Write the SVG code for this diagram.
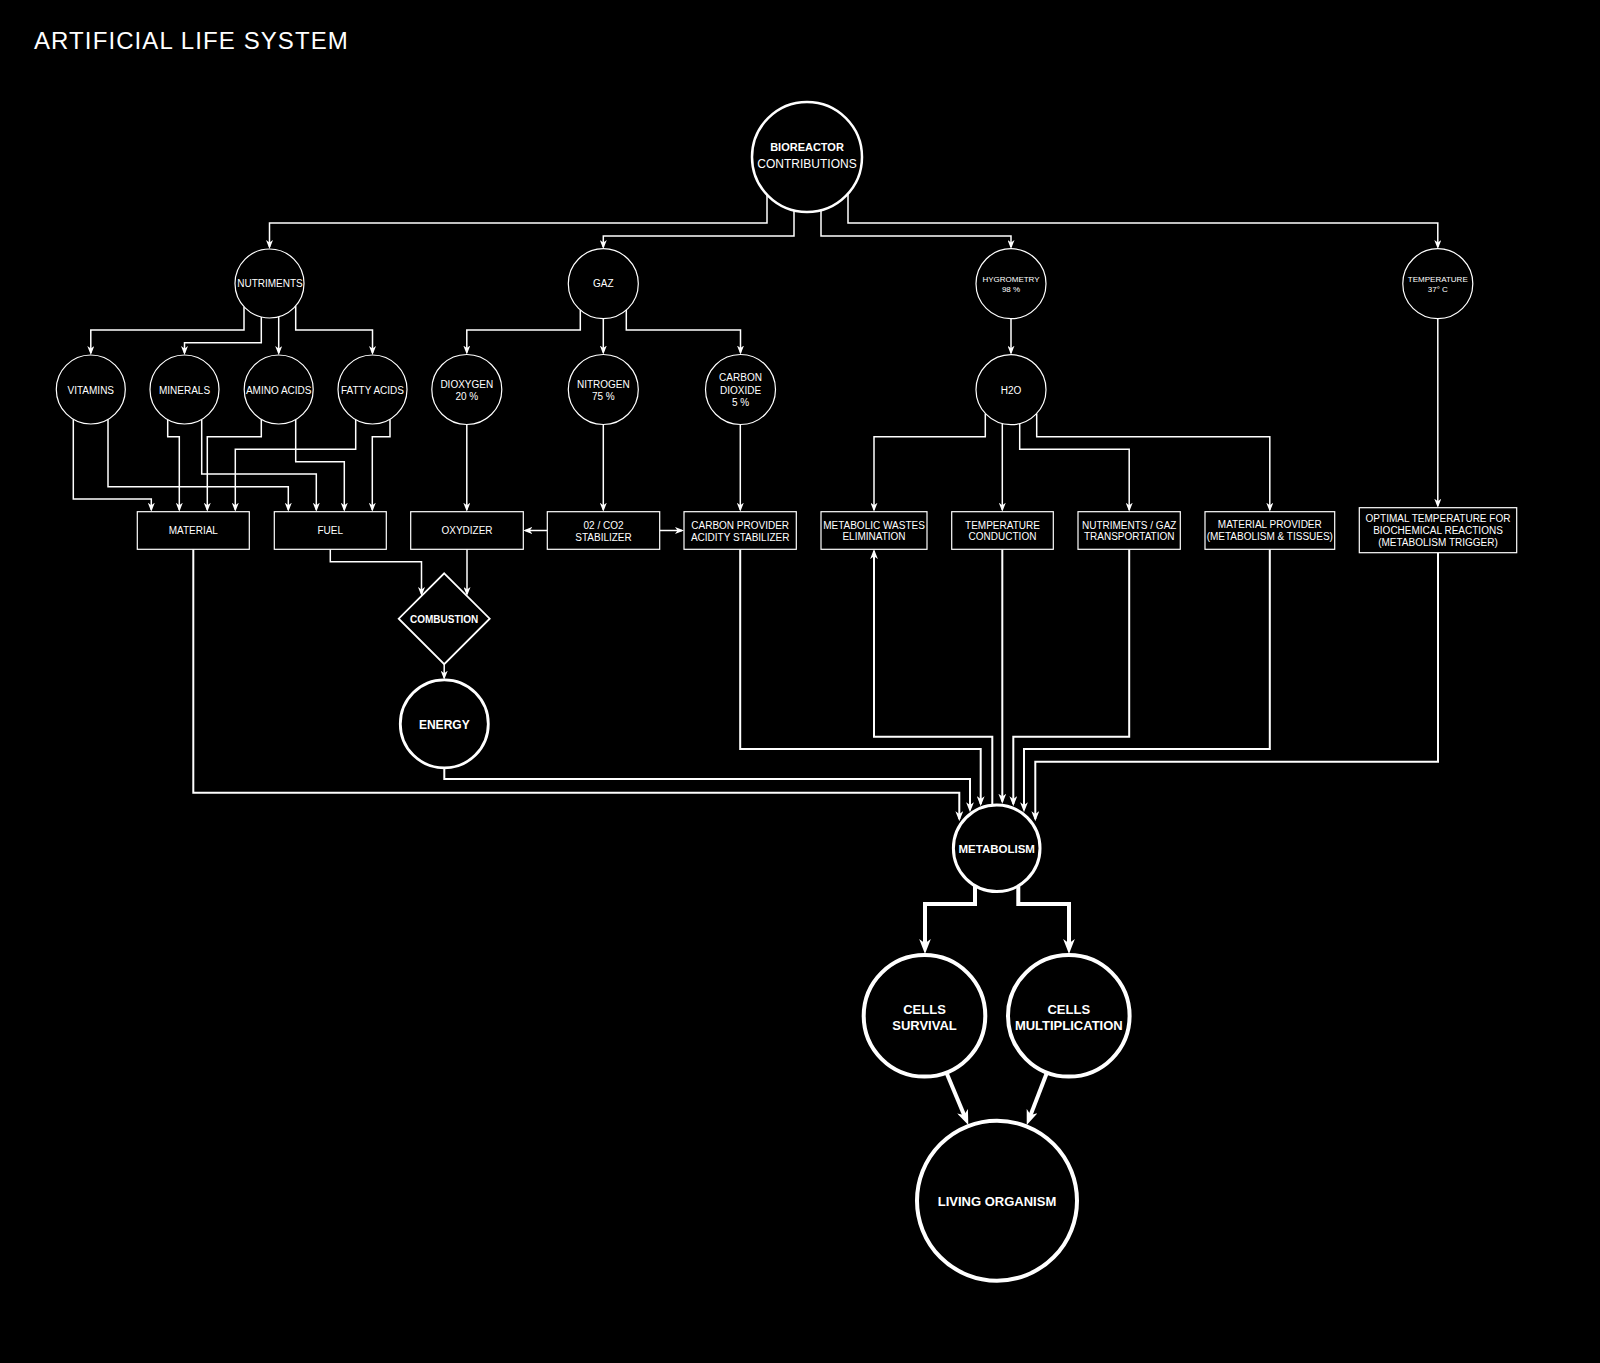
<svg xmlns="http://www.w3.org/2000/svg" width="1600" height="1363" viewBox="0 0 1600 1363">
<style>
text{font-family:"Liberation Sans",Arial,sans-serif;fill:#fff;text-anchor:middle}
.t10{font-size:10px}
.t8{font-size:8px}
.b{font-weight:bold}
.node{fill:#000;stroke:#fff;stroke-width:1.2}
.c{fill:none;stroke:#fff;stroke-width:1.5}
.c2{fill:none;stroke:#fff;stroke-width:2}
.c4{fill:none;stroke:#fff;stroke-width:4}
</style>
<defs>
<marker id="a" viewBox="0 0 9 7" markerWidth="9" markerHeight="7" refX="7" refY="3.5" orient="auto" markerUnits="userSpaceOnUse"><path d="M0,0 L9,3.5 L0,7 L2.5,3.5 Z" fill="#fff"/></marker>
<marker id="a2" viewBox="0 0 9 7" markerWidth="10" markerHeight="8" refX="7" refY="3.5" orient="auto" markerUnits="userSpaceOnUse"><path d="M0,0 L9,3.5 L0,7 L2.5,3.5 Z" fill="#fff"/></marker>
<marker id="b" viewBox="0 0 9 7" markerWidth="15" markerHeight="11.7" refX="5.4" refY="3.5" orient="auto" markerUnits="userSpaceOnUse"><path d="M0,0 L9,3.5 L0,7 L2.5,3.5 Z" fill="#fff"/></marker>
</defs>
<rect x="0" y="0" width="1600" height="1363" fill="#000"/>
<text x="34" y="49" style="font-size:24px;letter-spacing:1.1px;text-anchor:start">ARTIFICIAL LIFE SYSTEM</text>

<g id="connectors">
<path class="c" marker-end="url(#a)" d="M767,194.7 L767,223 L269.5,223 L269.5,247"/>
<path class="c" marker-end="url(#a)" d="M794,210.4 L794,236 L603.3,236 L603.3,247"/>
<path class="c" marker-end="url(#a)" d="M821,210.4 L821,236 L1011,236 L1011,247"/>
<path class="c" marker-end="url(#a)" d="M848,193.9 L848,223 L1437.8,223 L1437.8,247"/>

<path class="c" marker-end="url(#a)" d="M244,306.7 L244,330 L90.8,330 L90.8,353"/>
<path class="c" marker-end="url(#a)" d="M261.3,317 L261.3,342.7 L184.5,342.7 L184.5,353"/>
<path class="c" marker-end="url(#a)" d="M278.7,316.8 L278.7,353"/>
<path class="c" marker-end="url(#a)" d="M295.7,305.9 L295.7,330 L372.5,330 L372.5,353"/>

<path class="c" marker-end="url(#a)" d="M580.3,310.1 L580.3,330 L466.8,330 L466.8,352.5"/>
<path class="c" marker-end="url(#a)" d="M603.3,318.7 L603.3,352.5"/>
<path class="c" marker-end="url(#a)" d="M626.3,310.1 L626.3,330 L740.5,330 L740.5,352.5"/>

<path class="c" marker-end="url(#a)" d="M1011,318.7 L1011,352.7"/>
<path class="c" marker-end="url(#a)" d="M1437.8,318.7 L1437.8,505.7"/>

<path class="c" marker-end="url(#a)" d="M73.3,419.2 L73.3,499 L151.3,499 L151.3,509.7"/>
<path class="c" marker-end="url(#a)" d="M108,419.2 L108,486.7 L288.3,486.7 L288.3,509.7"/>
<path class="c" marker-end="url(#a)" d="M167.7,419.6 L167.7,436.7 L179.3,436.7 L179.3,509.7"/>
<path class="c" marker-end="url(#a)" d="M201.7,419.4 L201.7,474 L316.3,474 L316.3,509.7"/>
<path class="c" marker-end="url(#a)" d="M261.3,419.3 L261.3,436.7 L207.3,436.7 L207.3,509.7"/>
<path class="c" marker-end="url(#a)" d="M295.7,419.3 L295.7,461.7 L344.3,461.7 L344.3,509.7"/>
<path class="c" marker-end="url(#a)" d="M355.7,419.6 L355.7,449.3 L235.3,449.3 L235.3,509.7"/>
<path class="c" marker-end="url(#a)" d="M390,419.2 L390,436.7 L372.3,436.7 L372.3,509.7"/>

<path class="c" marker-end="url(#a)" d="M466.8,424.5 L466.8,509.7"/>
<path class="c" marker-end="url(#a)" d="M603.3,424.5 L603.3,509.7"/>
<path class="c" marker-end="url(#a)" d="M740.3,424.5 L740.3,509.7"/>
<path class="c" marker-end="url(#a)" d="M547.3,530.5 L525.3,530.5"/>
<path class="c" marker-end="url(#a)" d="M659.7,530.5 L682,530.5"/>

<path class="c" marker-end="url(#a)" d="M330.3,549.3 L330.3,561.7 L421.5,561.7 L421.5,594"/>
<path class="c" marker-end="url(#a)" d="M467,549.3 L467,594"/>
<path class="c" marker-end="url(#a)" d="M444.2,664.2 L444.2,677.7"/>

<path class="c" marker-end="url(#a)" d="M985.3,413.5 L985.3,436.7 L874,436.7 L874,509.7"/>
<path class="c" marker-end="url(#a)" d="M1002.3,423.6 L1002.3,509.7"/>
<path class="c" marker-end="url(#a)" d="M1019.7,423.6 L1019.7,449.3 L1129.2,449.3 L1129.2,509.7"/>
<path class="c" marker-end="url(#a)" d="M1036.7,413.5 L1036.7,436.7 L1269.8,436.7 L1269.8,509.7"/>

<path class="c2" marker-end="url(#a2)" d="M193.3,549.3 L193.3,792.7 L959.3,792.7 L959.3,819"/>
<path class="c2" marker-end="url(#a2)" d="M444.3,768 L444.3,779 L970,779 L970,810"/>
<path class="c2" marker-end="url(#a2)" d="M740.2,549.3 L740.2,749 L980.7,749 L980.7,804"/>
<path class="c2" marker-end="url(#a2)" d="M1002.3,549.3 L1002.3,801.5"/>
<path class="c2" marker-end="url(#a2)" d="M1129.2,549.3 L1129.2,736.7 L1013.3,736.7 L1013.3,804"/>
<path class="c2" marker-end="url(#a2)" d="M1269.8,549.3 L1269.8,749 L1024,749 L1024,810"/>
<path class="c2" marker-end="url(#a2)" d="M1438,552.7 L1438,761.7 L1035.3,761.7 L1035.3,819"/>
<path class="c2" marker-end="url(#a2)" d="M992.3,805 L992.3,736.7 L874,736.7 L874,551.3"/>

<path class="c4" marker-end="url(#b)" d="M975,885.8 L975,904 L925,904 L925,948"/>
<path class="c4" marker-end="url(#b)" d="M1018.3,885.8 L1018.3,904 L1069,904 L1069,948"/>
<path class="c4" marker-end="url(#b)" d="M946.7,1073.3 L966,1119.5"/>
<path class="c4" marker-end="url(#b)" d="M1046.7,1073.3 L1028.9,1119.4"/>
</g>

<g id="bioreactor"><circle cx="807" cy="157" r="55" class="node" style="stroke-width:2.5"/>
<text x="807" y="151.3" class="b" style="font-size:11px">BIOREACTOR</text>
<text x="807" y="168.3" style="font-size:12px">CONTRIBUTIONS</text></g>

<g id="nutriments"><circle cx="269.5" cy="283.5" r="34.5" class="node"/><text x="270" y="287.3" class="t10">NUTRIMENTS</text></g>
<g id="gaz"><circle cx="603.3" cy="283.7" r="35" class="node"/><text x="603.3" y="287.3" class="t10">GAZ</text></g>
<g id="hygrometry"><circle cx="1011" cy="283.7" r="35" class="node"/><text x="1011" y="281.9" class="t8">HYGROMETRY</text><text x="1011" y="292.2" class="t8">98 %</text></g>
<g id="temperature"><circle cx="1437.8" cy="283.7" r="35" class="node"/><text x="1437.8" y="281.9" class="t8">TEMPERATURE</text><text x="1437.8" y="292.2" class="t8">37° C</text></g>

<g id="vitamins"><circle cx="90.8" cy="389.5" r="34.5" class="node"/><text x="90.8" y="393.9" class="t10">VITAMINS</text></g>
<g id="minerals"><circle cx="184.5" cy="389.5" r="34.5" class="node"/><text x="184.5" y="393.9" class="t10">MINERALS</text></g>
<g id="amino-acids"><circle cx="278.7" cy="389.5" r="34.5" class="node"/><text x="278.7" y="393.9" class="t10">AMINO ACIDS</text></g>
<g id="fatty-acids"><circle cx="372.5" cy="389.5" r="34.5" class="node"/><text x="372.5" y="393.9" class="t10">FATTY ACIDS</text></g>
<g id="dioxygen"><circle cx="466.8" cy="389.5" r="35" class="node"/><text x="466.8" y="387.9" class="t10">DIOXYGEN</text><text x="466.8" y="399.6" class="t10">20 %</text></g>
<g id="nitrogen"><circle cx="603.3" cy="389.5" r="35" class="node"/><text x="603.3" y="387.9" class="t10">NITROGEN</text><text x="603.3" y="399.6" class="t10">75 %</text></g>
<g id="carbon-dioxide"><circle cx="740.5" cy="389.5" r="35" class="node"/><text x="740.5" y="381.3" class="t10">CARBON</text><text x="740.5" y="393.9" class="t10">DIOXIDE</text><text x="740.5" y="406.3" class="t10">5 %</text></g>
<g id="h2o"><circle cx="1011" cy="389.7" r="35" class="node"/><text x="1011" y="393.9" class="t10">H2O</text></g>

<g id="material"><rect x="137.3" y="511.7" width="112" height="37.6" class="node"/><text x="193.3" y="534.3" class="t10">MATERIAL</text></g>
<g id="fuel"><rect x="274.3" y="511.7" width="112" height="37.6" class="node"/><text x="330.3" y="534.3" class="t10">FUEL</text></g>
<g id="oxydizer"><rect x="410.7" y="511.7" width="112.6" height="37.6" class="node"/><text x="467" y="534.3" class="t10">OXYDIZER</text></g>
<g id="stabilizer"><rect x="547.3" y="511.7" width="112.4" height="37.6" class="node"/><text x="603.5" y="528.6" class="t10">02 / CO2</text><text x="603.5" y="540.6" class="t10">STABILIZER</text></g>
<g id="carbon-provider"><rect x="684" y="511.7" width="112.3" height="37.6" class="node"/><text x="740.2" y="528.6" class="t10">CARBON PROVIDER</text><text x="740.2" y="540.6" class="t10">ACIDITY STABILIZER</text></g>
<g id="metabolic-wastes"><rect x="821" y="511.7" width="106" height="37.6" class="node"/><text x="874" y="528.6" class="t10">METABOLIC WASTES</text><text x="874" y="540.3" class="t10">ELIMINATION</text></g>
<g id="temperature-conduction"><rect x="951.7" y="511.7" width="101.6" height="37.6" class="node"/><text x="1002.5" y="528.6" class="t10">TEMPERATURE</text><text x="1002.5" y="540.3" class="t10">CONDUCTION</text></g>
<g id="nutriments-transport"><rect x="1078" y="511.7" width="102.3" height="37.6" class="node"/><text x="1129.2" y="528.6" class="t10">NUTRIMENTS / GAZ</text><text x="1129.2" y="540.3" class="t10">TRANSPORTATION</text></g>
<g id="material-provider"><rect x="1205" y="511.7" width="129.7" height="37.6" class="node"/><text x="1269.8" y="528.3" class="t10">MATERIAL PROVIDER</text><text x="1269.8" y="540.3" class="t10">(METABOLISM &amp; TISSUES)</text></g>
<g id="optimal-temperature"><rect x="1359.3" y="507.7" width="157.4" height="45" class="node"/><text x="1438" y="521.9" class="t10">OPTIMAL TEMPERATURE FOR</text><text x="1438" y="534.3" class="t10">BIOCHEMICAL REACTIONS</text><text x="1438" y="546.3" class="t10">(METABOLISM TRIGGER)</text></g>

<g id="combustion"><path d="M444.2,573.3 L489.7,618.7 L444.2,664.2 L398.7,618.7 Z" class="node" style="stroke-width:1.8"/><text x="444.2" y="622.9" class="t10 b">COMBUSTION</text></g>
<g id="energy"><circle cx="444.3" cy="723.9" r="44" class="node" style="stroke-width:2.8"/><text x="444.3" y="729.3" class="b" style="font-size:12px">ENERGY</text></g>
<g id="metabolism"><circle cx="996.7" cy="848.3" r="43.3" class="node" style="stroke-width:3"/><text x="996.7" y="853.1" class="b" style="font-size:11.5px">METABOLISM</text></g>
<g id="cells-survival"><circle cx="924.5" cy="1015.8" r="60.8" class="node" style="stroke-width:4"/><text x="924.5" y="1013.6" class="b" style="font-size:13px">CELLS</text><text x="924.5" y="1030" class="b" style="font-size:13px">SURVIVAL</text></g>
<g id="cells-multiplication"><circle cx="1068.8" cy="1015.8" r="60.8" class="node" style="stroke-width:4"/><text x="1068.8" y="1013.6" class="b" style="font-size:13px">CELLS</text><text x="1068.8" y="1030" class="b" style="font-size:13px">MULTIPLICATION</text></g>
<g id="living-organism"><circle cx="997" cy="1200.7" r="80" class="node" style="stroke-width:4"/><text x="997" y="1206.3" class="b" style="font-size:13px">LIVING ORGANISM</text></g>
</svg>
